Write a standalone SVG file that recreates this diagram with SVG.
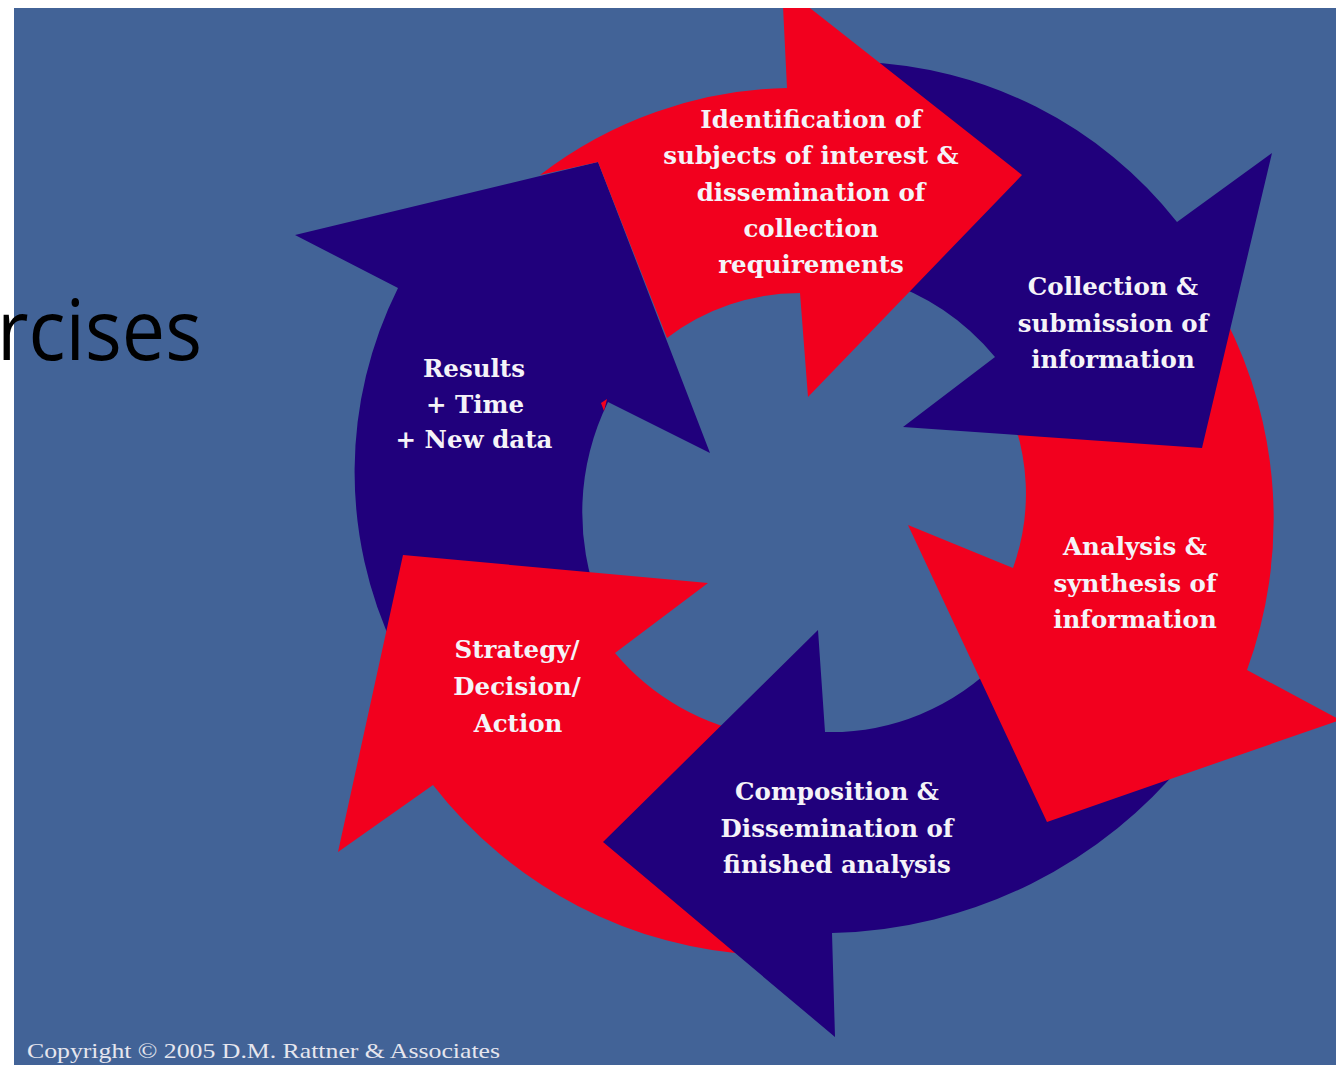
<svg xmlns="http://www.w3.org/2000/svg" width="1336" height="1065" viewBox="0 0 1336 1065">
<style>
.navy{fill:#20007c}
.red{fill:#f2001e}
.lbl{font-family:"DejaVu Serif","Liberation Serif",serif;font-weight:bold;font-size:24.5px;fill:#f5f3f8;text-anchor:middle}
.copy{font-family:"Liberation Serif",serif;font-size:21px;fill:#e6e6ee}
.side{font-family:"Open Sans","Liberation Sans",sans-serif;font-size:84px;fill:#000}
</style>
<defs>
<clipPath id="bg"><rect x="14" y="8" width="1322" height="1057"/></clipPath>
</defs>
<rect x="0" y="0" width="1336" height="1065" fill="#ffffff"/>
<rect x="14" y="8" width="1322" height="1057" fill="#426397"/>
<text class="side" x="-3" y="360" textLength="205" lengthAdjust="spacingAndGlyphs">rcises</text>
<g clip-path="url(#bg)">
<g id="node-results">
<path class="navy" d="M398,288 L295,235 L598,162 L710,453 L608,402 A250,250 0 0 0 600,605 L395,650 A412,412 0 0 1 398,288 Z"/>
<text class="lbl" x="474" y="377">Results</text>
<text class="lbl" x="475" y="413">+ Time</text>
<text class="lbl" x="474" y="448">+ New data</text>
</g>
<g id="node-strategy">
<path class="red" d="M760,955 A440,440 0 0 1 433,785 L338,852 L403,555 L708,583 L615,653 A237,237 0 0 0 760,735 Z"/>
<text class="lbl" x="517" y="658">Strategy/</text>
<text class="lbl" x="517" y="695">Decision/</text>
<text class="lbl" x="518" y="732">Action</text>
</g>
<g id="node-composition">
<path class="navy" d="M1190,755 A470,470 0 0 1 832,933 L835,1037 L603,842 L818,630 L825,732 A235,235 0 0 0 1000,660 Z"/>
<text class="lbl" x="837" y="800">Composition &amp;</text>
<text class="lbl" x="837" y="837">Dissemination of</text>
<text class="lbl" x="837" y="873">finished analysis</text>
</g>
<g id="node-analysis">
<path class="red" d="M1225,318 A440,440 0 0 1 1247,670 L1340,720 L1047,822 L908,525 L1013,568 A220,220 0 0 0 1005,400 Z"/>
<text class="lbl" x="1135" y="555">Analysis &amp;</text>
<text class="lbl" x="1135" y="592">synthesis of</text>
<text class="lbl" x="1135" y="628">information</text>
</g>
<g id="node-collection">
<path class="navy" d="M860,62 A420,420 0 0 1 1177,222 L1272,153 L1202,448 L903,427 L995,357 A244,244 0 0 0 880,280 Z"/>
<text class="lbl" x="1113" y="295">Collection &amp;</text>
<text class="lbl" x="1113" y="332">submission of</text>
<text class="lbl" x="1113" y="368">information</text>
</g>
<g id="node-identification">
<path class="red" d="M540,175 A420,420 0 0 1 787,88 L782,-14 L1022,175 L808,397 L800,293 A220,220 0 0 0 667,338 L598,162 L540,175 Z M601,403 L607,399 L604,411 Z"/>
<text class="lbl" x="811" y="128">Identification of</text>
<text class="lbl" x="811" y="164">subjects of interest &amp;</text>
<text class="lbl" x="811" y="201">dissemination of</text>
<text class="lbl" x="811" y="237">collection</text>
<text class="lbl" x="811" y="273">requirements</text>
</g>
</g>
<text class="copy" x="27" y="1058" textLength="473" lengthAdjust="spacingAndGlyphs">Copyright © 2005 D.M. Rattner &amp; Associates</text>
</svg>
